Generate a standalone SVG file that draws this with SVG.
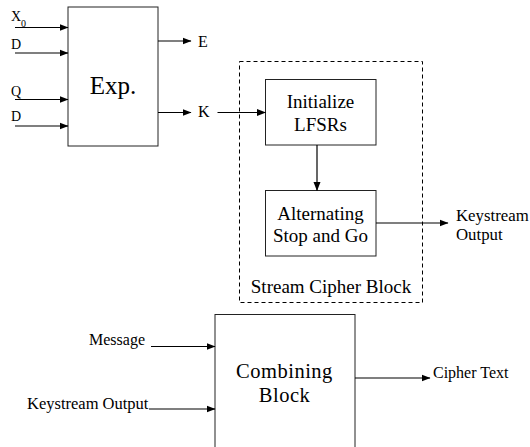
<svg xmlns="http://www.w3.org/2000/svg" width="530" height="447" viewBox="0 0 530 447">
<defs>
<marker id="ah" markerWidth="9" markerHeight="8" refX="8.5" refY="4" orient="auto" markerUnits="userSpaceOnUse">
<path d="M0,0.5 L9,4 L0,7.5 Z" fill="#000"/>
</marker>
</defs>
<style>
.box{fill:#fff;stroke:#222;stroke-width:1}
.dash{fill:none;stroke:#000;stroke-width:1;stroke-dasharray:4,3}
.ln{fill:none;stroke:#000;stroke-width:1.2;marker-end:url(#ah)}
.s14{font-size:14px}
.s16{font-size:16px}
.s19{font-size:19px;text-anchor:middle}
</style>
<rect width="530" height="447" fill="#fff"/>
<g font-family="'Liberation Serif', 'DejaVu Serif', serif" fill="#000">
<g id="stream-cipher-block">
<rect class="dash" x="239.5" y="61.5" width="183" height="241"/>
<text x="331" y="293" class="s19">Stream Cipher Block</text>
</g>
<g id="exp">
<rect class="box" x="68" y="7" width="90" height="139"/>
<text x="113" y="94" style="font-size:25px;text-anchor:middle">Exp.</text>
</g>
<g id="init-lfsr">
<rect class="box" x="265.5" y="79.5" width="110.5" height="65.5"/>
<text x="320.5" y="108" class="s19">Initialize</text>
<text x="320.5" y="131" class="s19">LFSRs</text>
</g>
<g id="alt-stop-go">
<rect class="box" x="265.5" y="190.5" width="110.5" height="65.5"/>
<text x="320.5" y="220" class="s19">Alternating</text>
<text x="320.5" y="242" class="s19">Stop and Go</text>
</g>
<g id="combining">
<rect class="box" x="215" y="314.5" width="140" height="150"/>
<text x="284.5" y="378" style="font-size:20.5px;text-anchor:middle;letter-spacing:0.5px">Combining</text>
<text x="284.5" y="402" style="font-size:20.5px;text-anchor:middle;letter-spacing:0.5px">Block</text>
</g>
<g id="labels">
<text x="11" y="20.5" class="s14">X</text>
<text x="21" y="26.5" style="font-size:10px">0</text>
<text x="11" y="49" class="s14">D</text>
<text x="11" y="95.5" class="s14">Q</text>
<text x="11" y="121" class="s14">D</text>
<text x="198" y="46.5" class="s16">E</text>
<text x="198" y="117" class="s16">K</text>
<text x="456" y="221" style="font-size:16.8px">Keystream</text>
<text x="456" y="240" style="font-size:16.8px">Output</text>
<text x="89" y="345" class="s16">Message</text>
<text x="27" y="408.5" style="font-size:16.5px">Keystream Output</text>
<text x="433" y="377.5" class="s16">Cipher Text</text>
</g>
</g>
<g id="connectors">
<line class="ln" x1="15" y1="27.5" x2="68" y2="27.5"/>
<line class="ln" x1="15" y1="53" x2="68" y2="53"/>
<line class="ln" x1="15" y1="99.5" x2="68" y2="99.5"/>
<line class="ln" x1="15" y1="126" x2="68" y2="126"/>
<line class="ln" x1="158" y1="41" x2="191" y2="41"/>
<line class="ln" x1="158" y1="112.5" x2="191" y2="112.5"/>
<line class="ln" x1="217.5" y1="112.5" x2="265.5" y2="112.5"/>
<line class="ln" x1="317" y1="145" x2="317" y2="190.5"/>
<line class="ln" x1="376" y1="223" x2="448" y2="223"/>
<line class="ln" x1="151" y1="346.5" x2="215" y2="346.5"/>
<line class="ln" x1="149" y1="409" x2="215" y2="409"/>
<line class="ln" x1="355" y1="378" x2="430" y2="378"/>
</g>
</svg>
